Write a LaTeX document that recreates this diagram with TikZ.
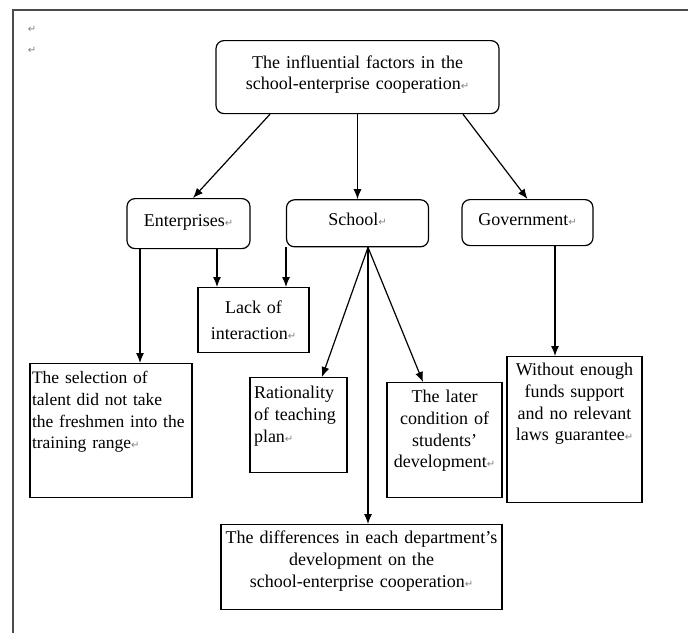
\documentclass[tikz,border=0pt]{standalone}
\usepackage{fontspec}
\setmainfont{Liberation Serif}
\newfontfamily\markfont{DejaVu Sans}
\usepackage{tikz}
\usetikzlibrary{arrows.meta}
\usetikzlibrary{positioning}

\newcommand{\pmk}{{\color{gray}\markfont\fontsize{10}{10}\selectfont ↵}}

\begin{document}
\begin{tikzpicture}[x=1pt,y=-1pt,
	every node/.style={font=\fontsize{18}{21.7}\selectfont,inner xsep=4pt,inner ysep=0pt,anchor=north},
	rbox/.style={draw,line width=1.2pt,rounded corners=8pt,align=center},
	sbox/.style={draw,line width=1.2pt},
	arr/.style={line width=1.2pt,-{Latex[length=10pt,width=8pt]}}]

	\useasboundingbox (0,0) rectangle (688,633);
	\draw[line width=1.5pt,black!70] (13,633) -- (13,10) -- (688,10);

	\node[anchor=center,inner sep=0pt] (m1) at (32,29) {\pmk};
	\node[anchor=center,inner sep=0pt] (m2) at (32,50) {\pmk};

	\node[rbox, text width=275pt, text height=28pt, text depth=45pt, font=\fontsize{18}{20.5}\selectfont] (top) at (357.5,40) {
		The influential factors in the\\
		school-enterprise cooperation\pmk
	};
	\node[rbox, text width=115pt, text height=28pt, text depth=22pt] (ent) at (188.5,198) {Enterprises\pmk};
	\node[rbox, text width=134pt, text height=26pt, text depth=21pt, below=85pt of top] (sch) {School\pmk};
	\node[rbox, text width=123pt, text height=26pt, text depth=20pt] (gov) at (527.5,199) {Government\pmk};

	\node[sbox, text width=103pt, align=center, text height=26pt, text depth=39pt, font=\fontsize{18}{26}\selectfont] (lack) at (253.5,287) {
		Lack of\\
		interaction\pmk
	};
	\node[sbox, text width=158pt, inner xsep=2pt, align=left, text height=20pt, text depth=114pt, font=\fontsize{17.5}{21.7}\selectfont] (sel) at (111,363) {
		The selection of\\
		talent did not take\\
		the freshmen into the\\
		training range\pmk
	};
	\node[sbox, text width=89pt, align=left, text height=21pt, text depth=74pt] (rat) at (298.5,377) {
		Rationality\\
		of teaching\\
		plan\pmk
	};
	\node[sbox, text width=107pt, align=center, text height=20pt, text depth=95pt] (lat) at (444.5,382) {
		The later\\
		condition of\\
		students’\\
		development\pmk
	};
	\node[sbox, text width=127pt, align=center, text height=19pt, text depth=127pt] (wo) at (574.5,356) {
		Without enough\\
		funds support\\
		and no relevant\\
		laws guarantee\pmk
	};
	\node[sbox, text width=273pt, align=center, text height=19pt, text depth=66pt] (dif) at (361.5,524) {
		The differences in each department’s\\
		development on the\\
		school-enterprise cooperation\pmk
	};

	\coordinate (e1) at ([xshift=-48.5pt]ent.south);
	\coordinate (e2) at ([xshift=28.5pt]ent.south);
	\coordinate (s0) at ([xshift=10.5pt]sch.south);
	\coordinate (s1) at ([xshift=-71.5pt]sch.south);
	\coordinate (g1) at ([xshift=27.5pt]gov.south);

	\draw[arr] ([xshift=-87.5pt]top.south) -- ([xshift=4.5pt]ent.north);
	\draw[arr] (top.south) -- (sch.north);
	\draw[arr] ([xshift=105.5pt]top.south) -- (gov.north);
	\draw[arr] (e1) -- (e1 |- sel.north);
	\draw[arr] (e2) -- (e2 |- lack.north);
	\draw[arr] (s1) -- (s1 |- lack.north);
	\draw[arr] (s0) -- ([xshift=23.5pt]rat.north);
	\draw[arr] (s0) -- ([xshift=-21.5pt]lat.north);
	\draw[arr] (s0) -- (s0 |- dif.north);
	\draw[arr] (g1) -- (g1 |- wo.north);
\end{tikzpicture}
\end{document}
